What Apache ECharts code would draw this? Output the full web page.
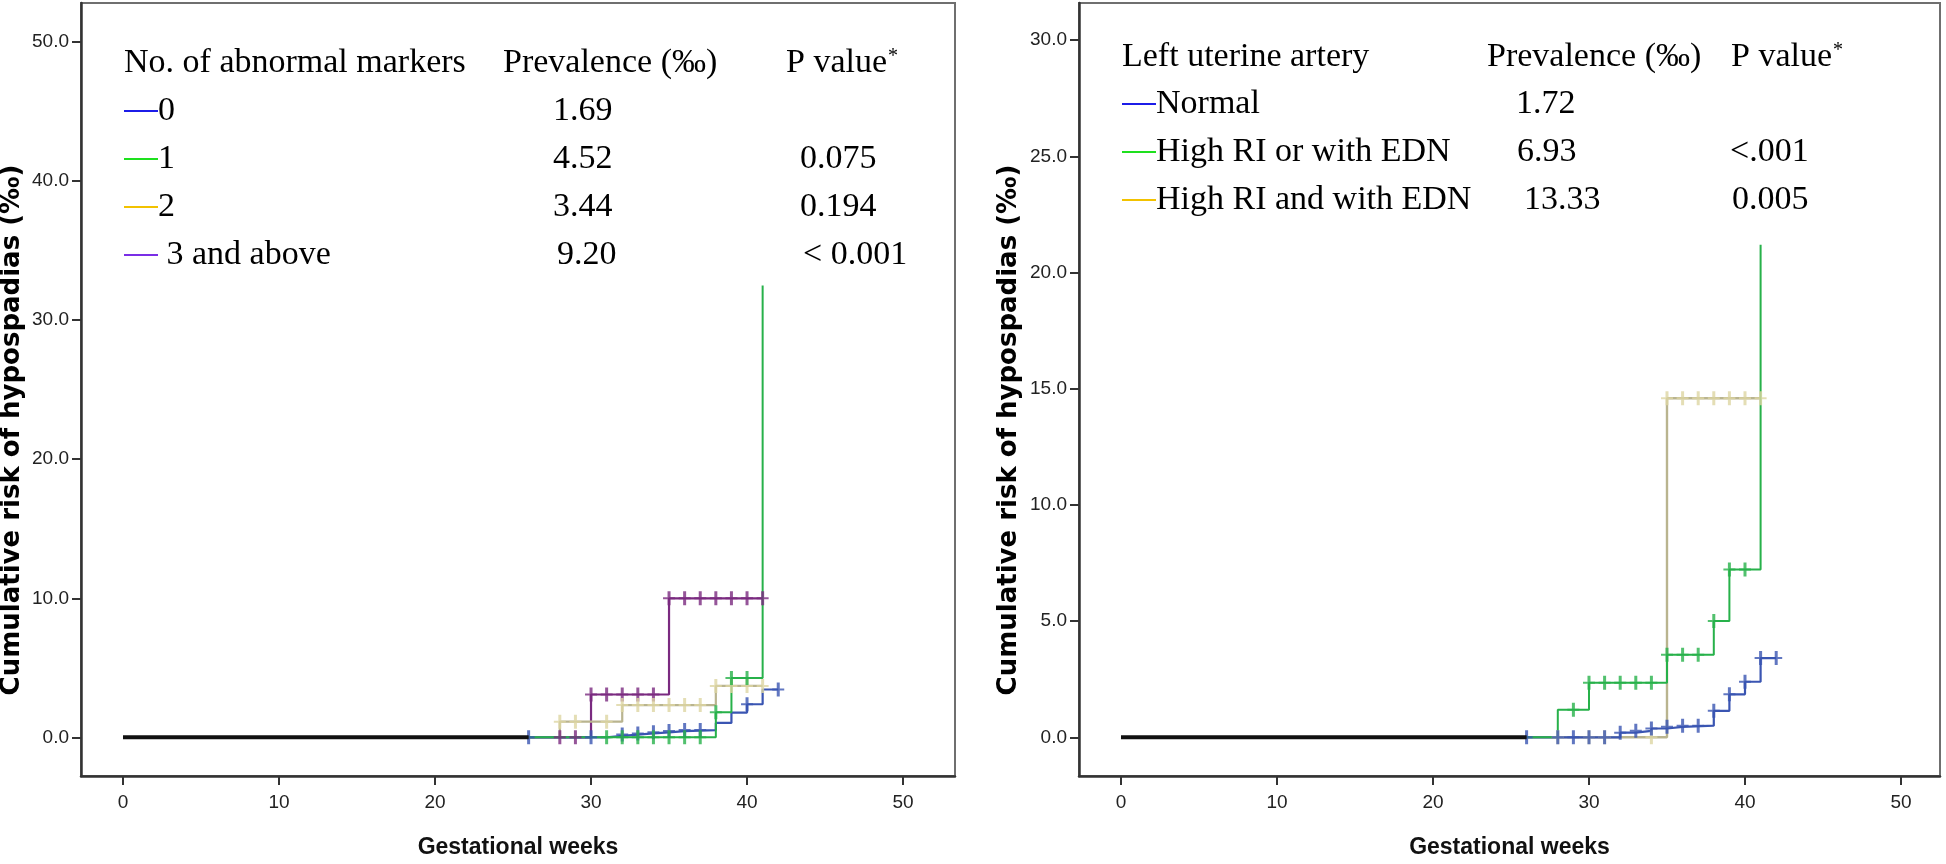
<!DOCTYPE html>
<html><head><meta charset="utf-8">
<script src="https://cdn.jsdelivr.net/npm/echarts@6/dist/echarts.min.js"></script>
<style>html,body{margin:0;padding:0;background:#fff}#c{width:1946px;height:864px}</style>
</head><body><div id="c"></div>
<script>
// ================= DATA =================
const xTicks = [0, 10, 20, 30, 40, 50];
const yTicksL = [0, 10, 20, 30, 40, 50];
const yTicksR = [0, 5, 10, 15, 20, 25, 30];

// Left panel: number of abnormal markers (step events: week -> cumulative risk ‰)
const m0Weeks = [0, 31, 32, 33, 34, 35, 36, 38, 39, 40, 41, 42];
const m0Risk  = [0, 0.10, 0.20, 0.28, 0.36, 0.45, 0.52, 1.04, 1.78, 2.38, 3.44, 3.44];
const m0Cens  = [26, 30, 32, 33, 34, 35, 36, 37, 40, 42];

const m1Weeks = [0, 38, 39, 41];
const m1Risk  = [0, 1.80, 4.27, 32.5];
const m1Cens  = [31, 32, 33, 34, 35, 36, 37, 38, 39, 40];

const m2Weeks = [0, 28, 32, 38, 41];
const m2Risk  = [0, 1.13, 2.32, 3.70, 3.70];
const m2Cens  = [28, 29, 31, 32, 33, 34, 35, 36, 37, 38, 39, 40, 41];

const m3Weeks = [0, 30, 35, 41];
const m3Risk  = [0, 3.08, 10.0, 10.0];
const m3Cens  = [28, 29, 30, 31, 32, 33, 34, 35, 36, 37, 38, 39, 40, 41];

// Right panel: left uterine artery
const uNWeeks = [0, 32, 33, 34, 35, 36, 38, 39, 40, 41, 42];
const uNRisk  = [0, 0.20, 0.28, 0.38, 0.45, 0.50, 1.14, 1.85, 2.39, 3.41, 3.41];
const uNCens  = [26, 28, 29, 30, 31, 32, 33, 34, 35, 36, 37, 38, 39, 40, 41, 42];

const uOWeeks = [0, 28, 30, 35, 38, 39, 41];
const uORisk  = [0, 1.19, 2.35, 3.55, 5.00, 7.22, 21.2];
const uOCens  = [29, 30, 31, 32, 33, 34, 35, 36, 37, 38, 39, 40];

const uAWeeks = [0, 35, 41];
const uARisk  = [0, 14.59, 14.59];
const uACens  = [28, 30, 31, 34, 35, 36, 37, 38, 39, 40, 41];

// overlapping baseline segment (all groups at 0)
const overlapWeeks = [0, 26];
const overlapRisk  = [0, 0];

// Table texts
const leftHeader  = ['No. of abnormal markers', 'Prevalence (‰)', 'P value'];
const leftGroups  = ['0', '1', '2', ' 3 and above'];
const leftPrev    = ['1.69', '4.52', '3.44', '9.20'];
const leftP       = ['', '0.075', '0.194', '< 0.001'];
const rightHeader = ['Left uterine artery', 'Prevalence (‰)', 'P value'];
const rightGroups = ['Normal', 'High RI or with EDN', 'High RI and with EDN'];
const rightPrev   = ['1.72', '6.93', '13.33'];
const rightP      = ['', '<.001', '0.005'];

// ================= HELPERS =================
function hasFont(f) {
  const c = document.createElement('canvas').getContext('2d');
  c.font = '40px monospace';
  const a = c.measureText('0123456789.abcWm').width;
  c.font = '40px "' + f + '", monospace';
  return c.measureText('0123456789.abcWm').width !== a;
}
function textW(t, font) {
  const c = document.createElement('canvas').getContext('2d');
  c.font = font; return c.measureText(t).width;
}
const NARROW = hasFont('Liberation Sans Narrow');
const tickFont = NARROW ? 'Liberation Sans Narrow' : 'Liberation Sans';
const tickSize = NARROW ? 21 : 19;

function pts(w, r) { return w.map((x, i) => [x, r[i]]); }
function stepVal(w, r, t) { let v = r[0]; for (let i = 0; i < w.length; i++) if (w[i] <= t) v = r[i]; return v; }
function cens(w, r, c) { return c.map(t => [t, stepVal(w, r, t)]); }

const PLUS = 'path://M4.5,0H7.5V6H12V8H7.5V14H4.5V8H0V6H4.5Z';

const C = {
  blue: '#3a55b2', green: '#27b14a', tanLine: '#b9b48f', tanMark: '#ddd6a2', purple: '#7a2a80'
};
const LEG = { blue: '#1c1ce8', green: '#1ee01e', gold: '#f2c200', purple: '#7a2ee6' };

function lineSeries(idx, w, r, color, width, z) {
  return { type: 'line', xAxisIndex: idx, yAxisIndex: idx, data: pts(w, r), step: 'end',
    showSymbol: false, symbol: 'none', silent: true, animation: false, z: z || 2,
    lineStyle: { color: color, width: width || 2 } };
}
function censSeries(idx, w, r, c, color, z) {
  return { type: 'scatter', xAxisIndex: idx, yAxisIndex: idx, data: cens(w, r, c),
    symbol: PLUS, symbolSize: [12, 14], silent: true, animation: false, z: z || 3,
    itemStyle: { color: color } };
}

// ================= LAYOUT =================
const GL = { left: 81, top: 3, width: 874, height: 785 };
const GR = { left: 1079, top: 3, width: 861, height: 785 };

function xAxis(idx, min, max) {
  return { gridIndex: idx, type: 'value', min: min, max: max,
    axisLine: { show: true, onZero: false, lineStyle: { color: '#333', width: 2.5 } },
    axisTick: { show: true, customValues: xTicks, length: 9, lineStyle: { color: '#333', width: 2 } },
    axisLabel: { customValues: xTicks, margin: 17, fontFamily: tickFont, fontSize: tickSize, color: '#222' },
    splitLine: { show: false },
    name: 'Gestational weeks', nameLocation: 'middle', nameGap: 60,
    nameTextStyle: { fontFamily: 'Liberation Sans', fontWeight: 'bold', fontSize: 23, color: '#111' } };
}
function yAxis(idx, min, max, ticks) {
  return { gridIndex: idx, type: 'value', min: min, max: max,
    axisLine: { show: true, onZero: false, lineStyle: { color: '#333', width: 2.5 } },
    axisTick: { show: true, customValues: ticks, length: 9, lineStyle: { color: '#333', width: 2 } },
    axisLabel: { customValues: ticks, margin: 12, fontFamily: tickFont, fontSize: tickSize, color: '#222',
      formatter: v => Number(v).toFixed(1) },
    splitLine: { show: false } };
}

// table graphics
const TF = '34px "Liberation Serif"';
function txt(x, yBase, s) {
  return { type: 'text', x: x, y: yBase - 8, silent: true,
    style: { text: s, font: TF, fill: '#000', textAlign: 'left', textVerticalAlign: 'middle', verticalAlign: 'middle' } };
}
function star(x, yTop) {
  return { type: 'text', x: x, y: yTop, silent: true,
    style: { text: '*', font: '20px "Liberation Serif"', fill: '#000', textVerticalAlign: 'top', verticalAlign: 'top' } };
}
function legLine(x1, x2, y, color) {
  return { type: 'line', silent: true, shape: { x1: x1, y1: y, x2: x2, y2: y }, style: { stroke: color, lineWidth: 2 } };
}

const graphics = [];
// left table
{
  const col = [124, 503, 786];
  const hb = 71, rows = [119, 167, 215, 263];
  graphics.push(txt(col[0], hb, leftHeader[0]), txt(col[1], hb, leftHeader[1]), txt(col[2], hb, leftHeader[2]));
  graphics.push(star(col[2] + textW(leftHeader[2], TF) + 1, 47));
  const lc = [LEG.blue, LEG.green, LEG.gold, LEG.purple];
  const px = [553, 553, 553, 557], pv = [0, 800, 800, 803];
  rows.forEach((b, i) => {
    graphics.push(legLine(124, 158, b - 8, lc[i]));
    graphics.push(txt(158, b, leftGroups[i]));
    graphics.push(txt(px[i], b, leftPrev[i]));
    if (leftP[i]) graphics.push(txt(pv[i], b, leftP[i]));
  });
}
// right table
{
  const col = [1122, 1487, 1731];
  const hb = 65, rows = [112, 160, 208];
  graphics.push(txt(col[0], hb, rightHeader[0]), txt(col[1], hb, rightHeader[1]), txt(col[2], hb, rightHeader[2]));
  graphics.push(star(col[2] + textW(rightHeader[2], TF) + 1, 41));
  const lc = [LEG.blue, LEG.green, LEG.gold];
  const px = [1516, 1517, 1524], pv = [0, 1730, 1732];
  rows.forEach((b, i) => {
    graphics.push(legLine(1122, 1156, b - 8, lc[i]));
    graphics.push(txt(1156, b, rightGroups[i]));
    graphics.push(txt(px[i], b, rightPrev[i]));
    if (rightP[i]) graphics.push(txt(pv[i], b, rightP[i]));
  });
}
// y axis titles
const YT = 'bold 26px "DejaVu Sans"';
[12, 1009].forEach(x => graphics.push({ type: 'text', x: x, y: 430, rotation: Math.PI / 2, silent: true,
  style: { text: 'Cumulative risk of hypospadias (‰)', font: YT, fill: '#000', textAlign: 'center',
    textVerticalAlign: 'middle', verticalAlign: 'middle' } }));

const series = [
  // left
  lineSeries(0, m3Weeks, m3Risk, C.purple, 2.2, 2),
  lineSeries(0, m2Weeks, m2Risk, C.tanLine, 2.2, 2),
  lineSeries(0, m0Weeks, m0Risk, C.blue, 2.2, 2),
  lineSeries(0, m1Weeks, m1Risk, C.green, 2, 2),
  censSeries(0, m3Weeks, m3Risk, m3Cens, C.purple),
  censSeries(0, m2Weeks, m2Risk, m2Cens, C.tanMark),
  censSeries(0, m0Weeks, m0Risk, m0Cens, C.blue),
  censSeries(0, m1Weeks, m1Risk, m1Cens, C.green),
  lineSeries(0, overlapWeeks, overlapRisk, '#111', 4, 5),
  // right
  lineSeries(1, uAWeeks, uARisk, C.tanLine, 2.4, 2),
  lineSeries(1, uNWeeks, uNRisk, C.blue, 2.2, 2),
  lineSeries(1, uOWeeks, uORisk, C.green, 2, 2),
  censSeries(1, uAWeeks, uARisk, uACens, C.tanMark),
  censSeries(1, uNWeeks, uNRisk, uNCens, C.blue),
  censSeries(1, uOWeeks, uORisk, uOCens, C.green),
  lineSeries(1, overlapWeeks, overlapRisk, '#111', 4, 5)
];

const chart = echarts.init(document.getElementById('c'), null, { renderer: 'canvas' });
chart.setOption({
  backgroundColor: '#fff',
  animation: false,
  grid: [
    Object.assign({ show: true, borderColor: '#6f6f6f', borderWidth: 2, containLabel: false }, GL),
    Object.assign({ show: true, borderColor: '#6f6f6f', borderWidth: 2, containLabel: false }, GR)
  ],
  xAxis: [xAxis(0, -2.692, 53.33), xAxis(1, -2.692, 52.5)],
  yAxis: [yAxis(0, -2.78, 52.81, yTicksL), yAxis(1, -1.665, 31.6, yTicksR)],
  series: series,
  graphic: { elements: graphics }
});
</script>
</body></html>
